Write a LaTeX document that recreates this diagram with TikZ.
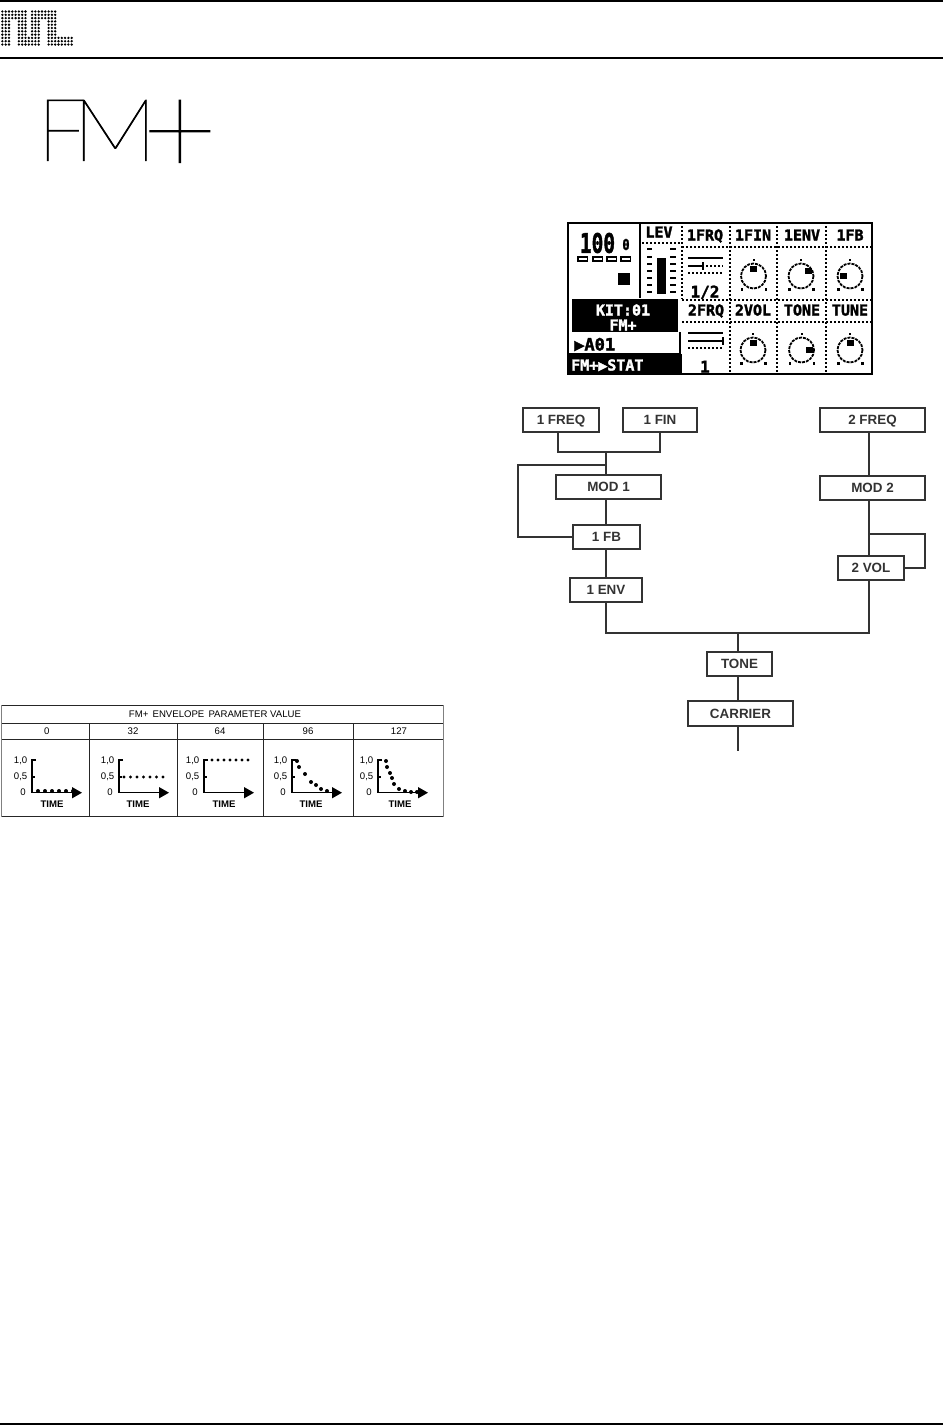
\documentclass[tikz,border=0pt]{standalone}
\usepackage{xcolor}
\usepackage{fontspec}
\setmainfont{Liberation Sans}
\newfontfamily\lcdfont{DejaVu Sans Mono}
\newfontfamily\lcdheavy[FakeBold=2]{DejaVu Sans Mono Bold}
\newfontfamily\thinfont[FakeBold=0.8]{Lato Thin}
\usetikzlibrary{arrows.meta}
\definecolor{fmdark}{RGB}{51,51,51}
\newcommand{\fsz}[1]{\fontsize{#1}{#1}\selectfont}
\tikzset{
  fmbox/.style={draw=fmdark,line width=2pt,fill=white,inner sep=0pt,minimum height=24pt,text=fmdark,text height=9.4pt,text depth=0pt,font=\fsz{13.4}\bfseries},
  wire/.style={draw=fmdark,line width=2pt},
  rule/.style={line width=#1,black},
  tabline/.style={line width=0.9pt,black!85},
  tabedge/.style={line width=0.7pt,black!50},
  tabtext/.style={inner sep=0pt,font=\fsz{9.6}},
  axislabel/.style={inner sep=0pt,anchor=east,font=\fsz{9.6}},
  timelabel/.style={inner sep=0pt,font=\fsz{9.6}\bfseries},
  curvedot/.style={black},
  axisline/.style={line width=1.5pt,black},
  lcdline/.style={line width=2pt,black},
  lcddots/.style={line width=2pt,black,dash pattern=on 2pt off 2pt},
  lcdthin/.style={line width=1.7pt,black},
  lcdtext/.style={inner sep=0pt,text height=11pt,text depth=0pt,font=\lcdheavy\fsz{15}},
  lcdwhite/.style={lcdtext,text=white},
  titletext/.style={inner sep=0pt,anchor=south west},
}
\begin{document}
\begin{tikzpicture}[x=1pt,y=-1pt]
  \useasboundingbox (0,0) rectangle (943,1425);
  % page rules
  \draw[rule=2.4pt] (0,1) -- (943,1);
  \draw[rule=2.4pt] (0,58) -- (943,58);
  \draw[rule=2.4pt] (0,1424) -- (943,1424);
  % logo
  \foreach \xa/\xb/\ya/\yb in {0/7/0/2,9/16/0/2,0/2/3/10,5/7/3/7,9/11/3/7,14/16/3/7,5/11/8/10,14/21/8/10}
    \foreach \col in {\xa,...,\xb}
      \foreach \row in {\ya,...,\yb}
        \fill[black] (2.4+3.3*\col,11.5+3.3*\row) circle (1.3);
  % title
  \node[titletext] (titlef) at (37,161) {\thinfont\fsz{87}F};
  \node[titletext] (titlem) at (72,161) {\thinfont\fsz{87}\scalebox{1.1}[1]{M}};
  \node[titletext] (titleplus) at (142,175) {\thinfont\fsz{130}+};
  % lcd frame
  \fill[black] (567,354) rectangle (682,375);
  \fill[black] (572,299) rectangle (678,332);
  \draw[lcdline] (568,223) rectangle (872,374);
  \draw[lcdline] (640,223) -- (640,298);
  \draw[lcdline] (680,332) -- (680,354) -- (568,354);
  \draw[lcddots] (642,243) -- (680,243);
  \draw[lcddots] (682,247) -- (872,247);
  \draw[lcddots] (682,300) -- (872,300);
  \draw[lcddots] (682,322) -- (872,322);
  \draw[lcddots] (682,226) -- (682,299);
  \foreach \lx in {730,777,826}
    \draw[lcddots] (\lx,226) -- (\lx,374);
  % lcd left panel
  \node[inner sep=0pt] (tempo) at (597.5,243) {\lcdheavy\fsz{27}\scalebox{.72}[1]{100}};
  \node[inner sep=0pt] (swing) at (626,244.5) {\lcdheavy\fsz{15}\scalebox{.8}[1]{0}};
  \foreach \bx in {578,593,607,621}
    \draw[lcdthin] (\bx,257) rectangle +(9.5,4);
  \fill[black] (618,273) rectangle (630,285);
  \node[lcdwhite] (kit) at (623,310) {KIT:01};
  \node[lcdwhite] (kitname) at (623,325) {FM+};
  \node[lcdtext,anchor=west] (pattern) at (574,345) {\fsz{17}▶A01};
  \node[lcdwhite,anchor=west] (machine) at (571,365) {FM+▶STAT};
  % level meter
  \node[lcdtext] (lev) at (659,232) {LEV};
  \fill[black] (657,258) rectangle (666,294);
  \foreach \my in {249,257,264,271,278,285,292}{
    \draw[line width=2.2pt,black] (647,\my) -- (652,\my);
    \draw[line width=2.2pt,black] (670,\my) -- (676,\my);
  }
  % lcd headings
  \node[lcdtext] (onefrq) at (705,235) {1FRQ};
  \node[lcdtext] (onefin) at (753,235) {1FIN};
  \node[lcdtext] (oneenv) at (802,235) {1ENV};
  \node[lcdtext] (onefb) at (850,235) {1FB};
  \node[lcdtext] (twofrq) at (706,310) {2FRQ};
  \node[lcdtext] (twovol) at (753,310) {2VOL};
  \node[lcdtext] (tonehead) at (802,310) {TONE};
  \node[lcdtext] (tunehead) at (850,310) {TUNE};
  \node[lcdtext] (ratioa) at (705,292) {\fsz{16}1/2};
  \node[lcdtext] (ratiob) at (705,367) {\fsz{16}1};
  % lcd ratio graphics
  \draw[lcdthin] (688,258) -- (723,258);
  \draw[line width=2.6pt,black] (688,266) -- (703,266);
  \draw[lcdthin] (703,262) -- (703,270);
  \draw[lcddots,line width=1.7pt] (706,266) -- (723,266);
  \draw[lcddots,line width=1.7pt] (688,273) -- (723,273);
  \draw[lcdthin] (688,333) -- (723,333);
  \draw[line width=2.6pt,black] (688,341) -- (723,341);
  \draw[lcdthin] (723,337) -- (723,345);
  \draw[lcddots,line width=1.7pt] (688,348) -- (723,348);
  % knobs
  \foreach \kx/\ky/\mx/\my in {753.5/276/0/-7,801/276/7/-5,850/276/-7/0,753/350/0/-7,801.5/350/8/0,850/350/0/-7}{
    \draw[lcddots,line width=1.8pt,dash pattern=on 3pt off 1pt] (\kx,\ky) circle (12.5);
    \fill[black] (\kx+\mx-3.5,\ky+\my-3) rectangle +(7,6);
    \fill[black] (\kx-1,\ky-17.5) rectangle +(2,2.5);
    \fill[black] (\kx-13,\ky+12) rectangle +(2.5,2.5);
    \fill[black] (\kx+11,\ky+12) rectangle +(2.5,2.5);
  }
  % flow nodes
  \node[fmbox,minimum width=76pt] (ofreq) at (561,420) {1 FREQ};
  \node[fmbox,minimum width=74pt] (ofin) at (660,420) {1 FIN};
  \node[fmbox,minimum width=105pt] (tfreq) at (872.5,420) {2 FREQ};
  \node[fmbox,minimum width=105pt] (modone) at (608.5,487) {MOD 1};
  \node[fmbox,minimum width=105pt] (modtwo) at (872.5,488) {MOD 2};
  \node[fmbox,minimum width=67pt] (ofb) at (606.5,537) {1 FB};
  \node[fmbox,minimum width=72pt] (oenv) at (606,590) {1 ENV};
  \node[fmbox,minimum width=66pt] (tvol) at (871,568) {2 VOL};
  \node[fmbox,minimum width=65pt] (tone) at (739.5,664) {TONE};
  \node[fmbox,minimum width=105pt,minimum height=25pt] (carrier) at (740.5,713.5) {CARRIER};
  \coordinate (jleft) at (558,452);
  \coordinate (jmid) at (606,452);
  \coordinate (jright) at (660,452);
  \coordinate (fbtop) at (606,465);
  \coordinate (fbleft) at (518,465);
  \coordinate (jvol) at (869,534);
  \coordinate (volright) at (925,534);
  \coordinate (bustop) at (738,632.5);
  \coordinate (carend) at (738,750.5);
  % flow connectors
  \draw[wire] (jleft |- ofreq.south) -- (jleft) -- (jright) -- (jright |- ofin.south);
  \draw[wire] (jmid) -- (jmid |- modone.north);
  \draw[wire] (fbtop) -- (fbleft) |- (ofb.west);
  \draw[wire] (jmid |- modone.south) -- (jmid |- ofb.north);
  \draw[wire] (jmid |- ofb.south) -- (jmid |- oenv.north);
  \draw[wire] (jmid |- oenv.south) |- (bustop) -| (jvol |- tvol.south);
  \draw[wire] (jvol |- tfreq.south) -- (jvol |- modtwo.north);
  \draw[wire] (jvol |- modtwo.south) -- (jvol |- tvol.north);
  \draw[wire] (jvol) -- (volright) |- (tvol.east);
  \draw[wire] (bustop) -- (bustop |- tone.north);
  \draw[wire] (bustop |- tone.south) -- (bustop |- carrier.north);
  \draw[wire] (bustop |- carrier.south) -- (carend);
  % envelope table
  \draw[tabline] (1,705) -- (443,705);
  \draw[tabline] (1,723) -- (443,723);
  \draw[tabline] (1,739) -- (443,739);
  \draw[tabline] (1,816.5) -- (443,816.5);
  \draw[tabedge] (1,705) -- (1,816.5);
  \draw[tabedge] (443,705) -- (443,816.5);
  \foreach \tx in {89,177,263,353}
    \draw[tabline] (\tx,723) -- (\tx,816.5);
  \node[tabtext] (tabhead) at (215,714.5) {FM+\hspace{1.5pt} ENVELOPE\hspace{1.5pt} PARAMETER VALUE};
  \foreach \ox/\lx/\val/\tm in {32/46.7/0/52,119/133/32/138,204/220/64/224,292/308/96/311,378/399/127/400}{
    \node[tabtext] (val\val) at (\lx,731) {\val};
    \draw[axisline] (\ox+4,760) -- (\ox,760) -- (\ox,793);
    \draw[axisline] (\ox,777) -- (\ox+3,777);
    \draw[axisline,-{Triangle[length=10pt,width=11pt]}] (\ox,792.7) -- (\ox+50,792.7);
    \node[axislabel] (onelab\val) at (\ox-4.5,760.5) {1,0};
    \node[axislabel] (halflab\val) at (\ox-4.5,776.5) {0,5};
    \node[axislabel] (zerolab\val) at (\ox-6,792.5) {0};
    \node[timelabel] (time\val) at (\tm,804) {TIME};
  }
  % envelope curves
  \foreach \dx in {38,45,52,59,66,73}
    \fill[curvedot] (\dx,791) circle (2);
  \foreach \dx in {124,130.5,137,143.5,150,156.5,163}
    \fill[curvedot] (\dx,777) circle (1.7);
  \foreach \dx in {212,218,224,230,236,242,248}
    \fill[curvedot] (\dx,760) circle (1.7);
  \foreach \dx/\dy in {297/761,299/767,305/774,311/782,316/785,321/789,327/791}
    \fill[curvedot] (\dx,\dy) circle (2);
  \foreach \dx/\dy in {386/761,387/767,390/773,392/778,394/784,399/789,405/791,411/792,417/792}
    \fill[curvedot] (\dx,\dy) circle (2);
\end{tikzpicture}
\end{document}
